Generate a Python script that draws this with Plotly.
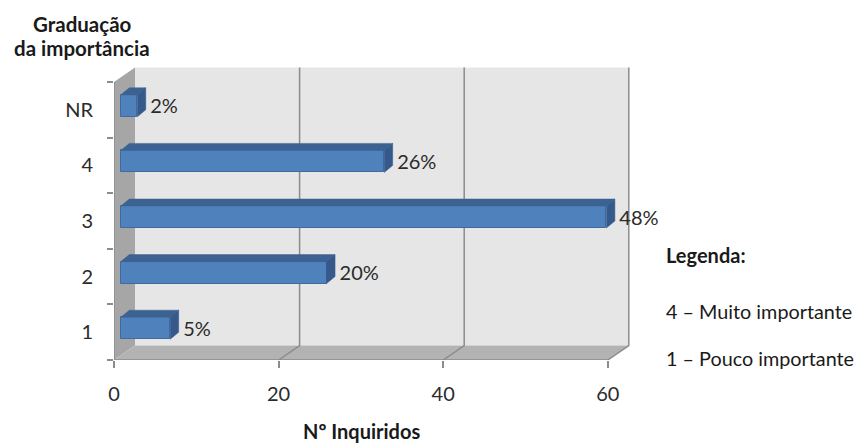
import plotly.graph_objects as go

# Survey responses by importance grade
categories = ["1", "2", "3", "4", "NR"]
respondents = [6, 25, 59, 32, 2]
percent_labels = ["5%", "20%", "48%", "26%", "2%"]
x_ticks = [0, 20, 40, 60]

W, H = 857, 443
LEFT, RIGHT, TOP, BOTTOM = 114, 640, 60, 360
X_PER_UNIT = 8.23
Y_PER_UNIT = 55.6
x_max = (RIGHT - LEFT) / X_PER_UNIT
y_max = (BOTTOM - TOP) / Y_PER_UNIT

# Fake-3D depth, in axis units
WALL_DX, WALL_DY = 21 / X_PER_UNIT, 14.5 / Y_PER_UNIT
BAR_DX, BAR_DY = 8.5 / X_PER_UNIT, 7 / Y_PER_UNIT
BAR_BASE = 6.8 / X_PER_UNIT
BAR_LIFT = 4 / Y_PER_UNIT
BAR_THICK = 22 / Y_PER_UNIT
n = len(categories)
x_end = x_ticks[-1]

BLUE, BLUE_TOP, BLUE_SIDE, BLUE_EDGE = "#4F81BD", "#3B6291", "#35598A", "#3F6C9F"
WALL, SIDE_WALL, FLOOR, GRID = "#E6E6E6", "#A6A6A6", "#B3B3B3", "#8C8C8C"
TEXT = "#2B2B2B"
FONT = "Lato"


def poly(points, fill, line=None, width=1):
    path = "M " + " L ".join(f"{x},{y}" for x, y in points) + (" Z" if fill else "")
    return dict(
        type="path", xref="x", yref="y", path=path, layer="below",
        fillcolor=fill or "rgba(0,0,0,0)",
        line=dict(color=line or "rgba(0,0,0,0)", width=width),
    )


shapes = [
    # back wall, side wall, floor
    poly([(WALL_DX, WALL_DY), (x_end + WALL_DX, WALL_DY), (x_end + WALL_DX, n + WALL_DY), (WALL_DX, n + WALL_DY)], WALL),
    poly([(0, 0), (WALL_DX, WALL_DY), (WALL_DX, n + WALL_DY), (0, n)], SIDE_WALL),
    poly([(0, 0), (WALL_DX, WALL_DY), (x_end + WALL_DX, WALL_DY), (x_end, 0)], FLOOR),
    poly([(0, n), (0, 0), (x_end, 0)], None, GRID, 1.5),
]
for t in x_ticks[1:]:
    shapes.append(poly([(t, 0), (t + WALL_DX, WALL_DY), (t + WALL_DX, n + WALL_DY)], None, GRID, 1.5))

fig = go.Figure()
y_front = [i + 0.5 + BAR_LIFT for i in range(n)]

fig.add_trace(go.Bar(
    y=y_front, x=respondents, base=BAR_BASE, orientation="h", width=BAR_THICK,
    marker=dict(color=BLUE, line=dict(color=BLUE_EDGE, width=1)), hoverinfo="x",
))

# Top and side faces of each bar
for v, yc in zip(respondents, y_front):
    x0, x1 = BAR_BASE, BAR_BASE + v
    lo, hi = yc - BAR_THICK / 2, yc + BAR_THICK / 2
    fig.add_trace(go.Scatter(
        x=[x0, x0 + BAR_DX, x1 + BAR_DX, x1, x0], y=[hi, hi + BAR_DY, hi + BAR_DY, hi, hi],
        mode="lines", fill="toself", fillcolor=BLUE_TOP, line=dict(color=BLUE_TOP, width=0.5), hoverinfo="skip",
    ))
    fig.add_trace(go.Scatter(
        x=[x1, x1 + BAR_DX, x1 + BAR_DX, x1, x1], y=[hi, hi + BAR_DY, lo + BAR_DY, lo, hi],
        mode="lines", fill="toself", fillcolor=BLUE_SIDE, line=dict(color=BLUE_SIDE, width=0.5), hoverinfo="skip",
    ))

fig.add_trace(go.Scatter(
    x=[BAR_BASE + v + 13 / X_PER_UNIT for v in respondents],
    y=[yc - 2.5 / Y_PER_UNIT for yc in y_front],
    mode="text", text=percent_labels, textposition="middle right",
    textfont=dict(family=FONT, size=20, color=TEXT), hoverinfo="skip", cliponaxis=False,
))


def label(text, px, py, size=17, bold=False, anchor="left"):
    fig.add_annotation(
        text=f"<b>{text}</b>" if bold else text,
        xref="paper", yref="paper",
        x=(px - LEFT) / (RIGHT - LEFT), y=(BOTTOM - py) / (BOTTOM - TOP),
        xanchor=anchor, yanchor="middle", showarrow=False,
        font=dict(family=FONT, size=size, color="#1A1A1A"),
    )


label("Graduação", 82, 24, 20.5, True, "center")
label("da importância", 82, 48, 20.5, True, "center")
label("Nº Inquiridos", 361, 431, 20, True, "center")
label("Legenda:", 664, 255, 20, True)
label("4 – Muito importante", 664, 311, 19.8)
label("1 – Pouco importante", 664, 358, 19.8)

fig.update_layout(
    width=W, height=H, margin=dict(l=LEFT, r=W - RIGHT, t=TOP, b=H - BOTTOM),
    autosize=False, paper_bgcolor="white", plot_bgcolor="white",
    showlegend=False, shapes=shapes, bargap=0,
    xaxis=dict(
        range=[0, x_max], tickvals=x_ticks, ticks="outside", ticklen=7, tickcolor=GRID, tickwidth=1.5,
        showgrid=False, zeroline=False, showline=False, ticklabelstandoff=9,
        tickfont=dict(family=FONT, size=20, color=TEXT),
    ),
    yaxis=dict(
        range=[0, y_max], tickvals=[i + 0.5 for i in range(n)], ticktext=categories,
        ticks="", showgrid=False, zeroline=False, showline=False, ticklabelstandoff=20,
        tickfont=dict(family=FONT, size=20, color=TEXT),
        minor=dict(tickvals=list(range(n + 1)), ticks="outside", ticklen=6, tickcolor=GRID, tickwidth=1.5, showgrid=False),
    ),
)

fig.write_html("out.html", config=dict(displayModeBar=False))
